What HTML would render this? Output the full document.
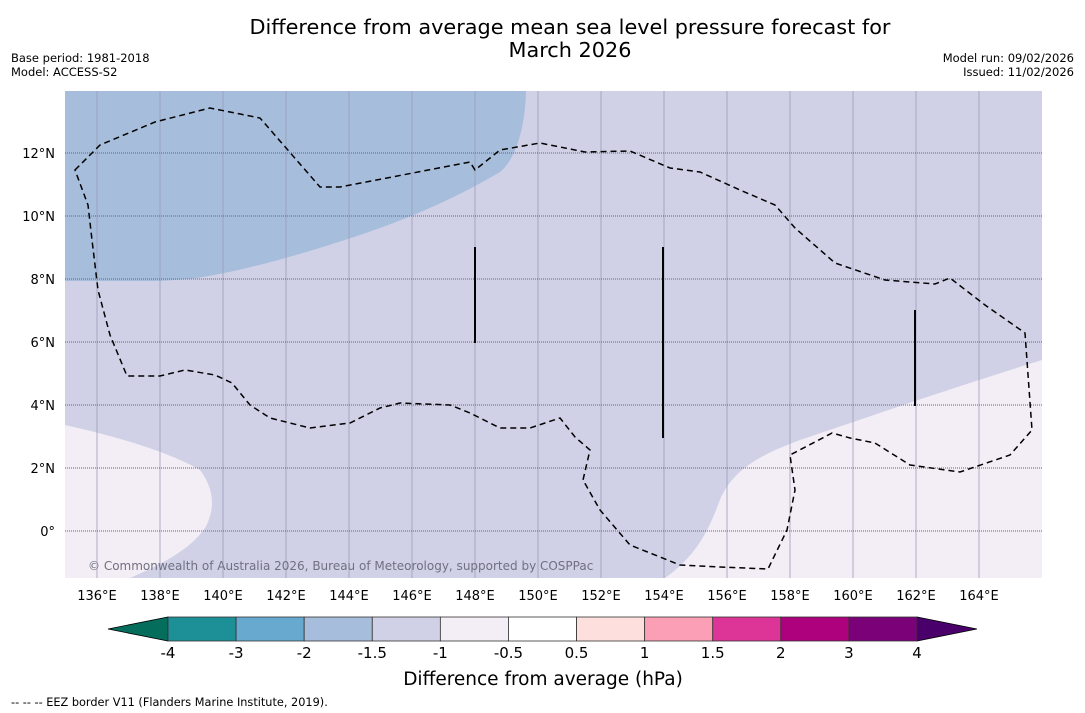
<!DOCTYPE html>
<html><head><meta charset="utf-8"><style>
body{margin:0;background:#fff;width:1085px;height:713px;overflow:hidden;font-family:"DejaVu Sans","Liberation Sans",sans-serif}
svg{position:absolute;left:0;top:0}
</style></head><body>
<svg width="1085" height="713">
<g id="map">
<rect x="65" y="91" width="977" height="487" fill="#d0d1e6"/>
<path d="M65,91 L526,91 C525,130 515,160 500,172 C470,190 420,215 360,235 C300,255 240,272 190,279 L160,281 L65,281 Z" fill="#a6bddb"/>
<path d="M65,425 C110,435 165,450 200,470 C215,490 215,510 205,528 C190,550 160,565 130,578 L65,578 Z" fill="#f3edf5"/>
<path d="M665,578 C690,560 705,540 718,505 C730,470 760,455 800,440 C860,420 930,395 1042,360 L1042,578 Z" fill="#f3edf5"/>
<g id="grid"></g>
<path d="M75,170 L100,145 L155,122 L210,108 L260,118 L320,187 L340,187 L470,162 L475,170 L500,150 L540,143 L585,152 L630,151 L670,168 L700,172 L740,190 L775,205 L795,228 L835,263 L885,280 L935,284 L950,278 L985,305 L1025,333 L1032,430 L1010,455 L960,472 L910,465 L875,443 L850,438 L832,433 L815,442 L790,455 L795,490 L787,530 L768,569 L720,567 L680,565 L630,545 L600,510 L583,480 L590,450 L575,437 L560,418 L530,428 L500,428 L470,413 L450,405 L400,403 L380,408 L350,423 L310,428 L270,418 L250,405 L232,383 L215,375 L185,370 L160,376 L127,376 L110,335 L98,290 L92,240 L88,205 Z" fill="none" stroke="#000" stroke-width="1.5" stroke-dasharray="6,4"/>
<line x1="475" y1="247" x2="475" y2="343" stroke="#000" stroke-width="2"/>
<line x1="663" y1="247" x2="663" y2="438" stroke="#000" stroke-width="2"/>
<line x1="915" y1="310" x2="915" y2="406" stroke="#000" stroke-width="2"/>
<text x="88" y="570" font-size="12" fill="#707080">© Commonwealth of Australia 2026, Bureau of Meteorology, supported by COSPPac</text>
</g>
<g id="ticks"></g>
<text x="570" y="34" font-size="20.8" text-anchor="middle">Difference from average mean sea level pressure forecast for</text>
<text x="570" y="57" font-size="20.8" text-anchor="middle">March 2026</text>
<text x="11" y="62" font-size="11.5">Base period: 1981-2018</text>
<text x="11" y="76" font-size="11.5">Model: ACCESS-S2</text>
<text x="1074" y="62" font-size="11.5" text-anchor="end">Model run: 09/02/2026</text>
<text x="1074" y="76" font-size="11.5" text-anchor="end">Issued: 11/02/2026</text>
<g id="cbar"></g>
<text x="543" y="685" font-size="18.5" text-anchor="middle">Difference from average (hPa)</text>
<text x="11" y="706" font-size="11.3">--  --  -- EEZ border V11 (Flanders Marine Institute, 2019).</text>
</svg>
<script>
const lonTicks=[136,138,140,142,144,146,148,150,152,154,156,158,160,162,164];
const latTicks=[0,2,4,6,8,10,12];
const levelLabels=["-4","-3","-2","-1.5","-1","-0.5","0.5","1","1.5","2","3","4"];
const levelColors=["#1d8f96","#67a9cf","#a6bddb","#d0d1e6","#f3edf5","#ffffff","#fde0dd","#fa9fb5","#dd3497","#ae017e","#7a0177"];
const NS="http://www.w3.org/2000/svg";
function X(lon){return 65.5+(lon-135)*31.5;}
function Y(lat){return 531-lat*31.5;}
function mk(t,a,p){const e=document.createElementNS(NS,t);for(const k in a)e.setAttribute(k,a[k]);p.appendChild(e);return e;}
const grid=document.getElementById('grid'),ticks=document.getElementById('ticks');
lonTicks.forEach(l=>{
 const ln=mk('line',{x1:X(l),x2:X(l),y1:91,y2:578,stroke:'#9a9db8','stroke-width':0.8},grid);
 
 
 const t=mk('text',{x:X(l),y:600,'font-size':13,'text-anchor':'middle'},ticks);t.textContent=l+'°E';
 
 
});
latTicks.forEach(l=>{
 const ln=mk('line',{x1:65,x2:1042,y1:Y(l),y2:Y(l),stroke:'#666','stroke-width':1,'stroke-dasharray':'1,1'},grid);
 
 
 const t=mk('text',{x:55,y:Y(l)+5,'font-size':13,'text-anchor':'end'},ticks);t.textContent=l===0?'0°':l+'°N';
 
 
});
const cb=document.getElementById('cbar');
const x0=168,x1=917,w=(x1-x0)/levelColors.length,y0=617,h=24;
const la=mk('polygon',{points:`${x0},${y0} ${x0},${y0+h} 108,${y0+h/2}`,fill:'#056d5c',stroke:'#000','stroke-width':0.8},cb);


const ra=mk('polygon',{points:`${x1},${y0} ${x1},${y0+h} 977,${y0+h/2}`,fill:'#49006a',stroke:'#000','stroke-width':0.8},cb);


levelColors.forEach((c,i)=>{
 const r=mk('rect',{x:x0+i*w,y:y0,width:w,height:h,fill:c,stroke:'#333','stroke-width':0.8},cb);
 
 
});
levelLabels.forEach((s,i)=>{
 const t=mk('text',{x:x0+i*w,y:658,'font-size':15,'text-anchor':'middle'},cb);t.textContent=s;
 
 
});
</script>
</body></html>
